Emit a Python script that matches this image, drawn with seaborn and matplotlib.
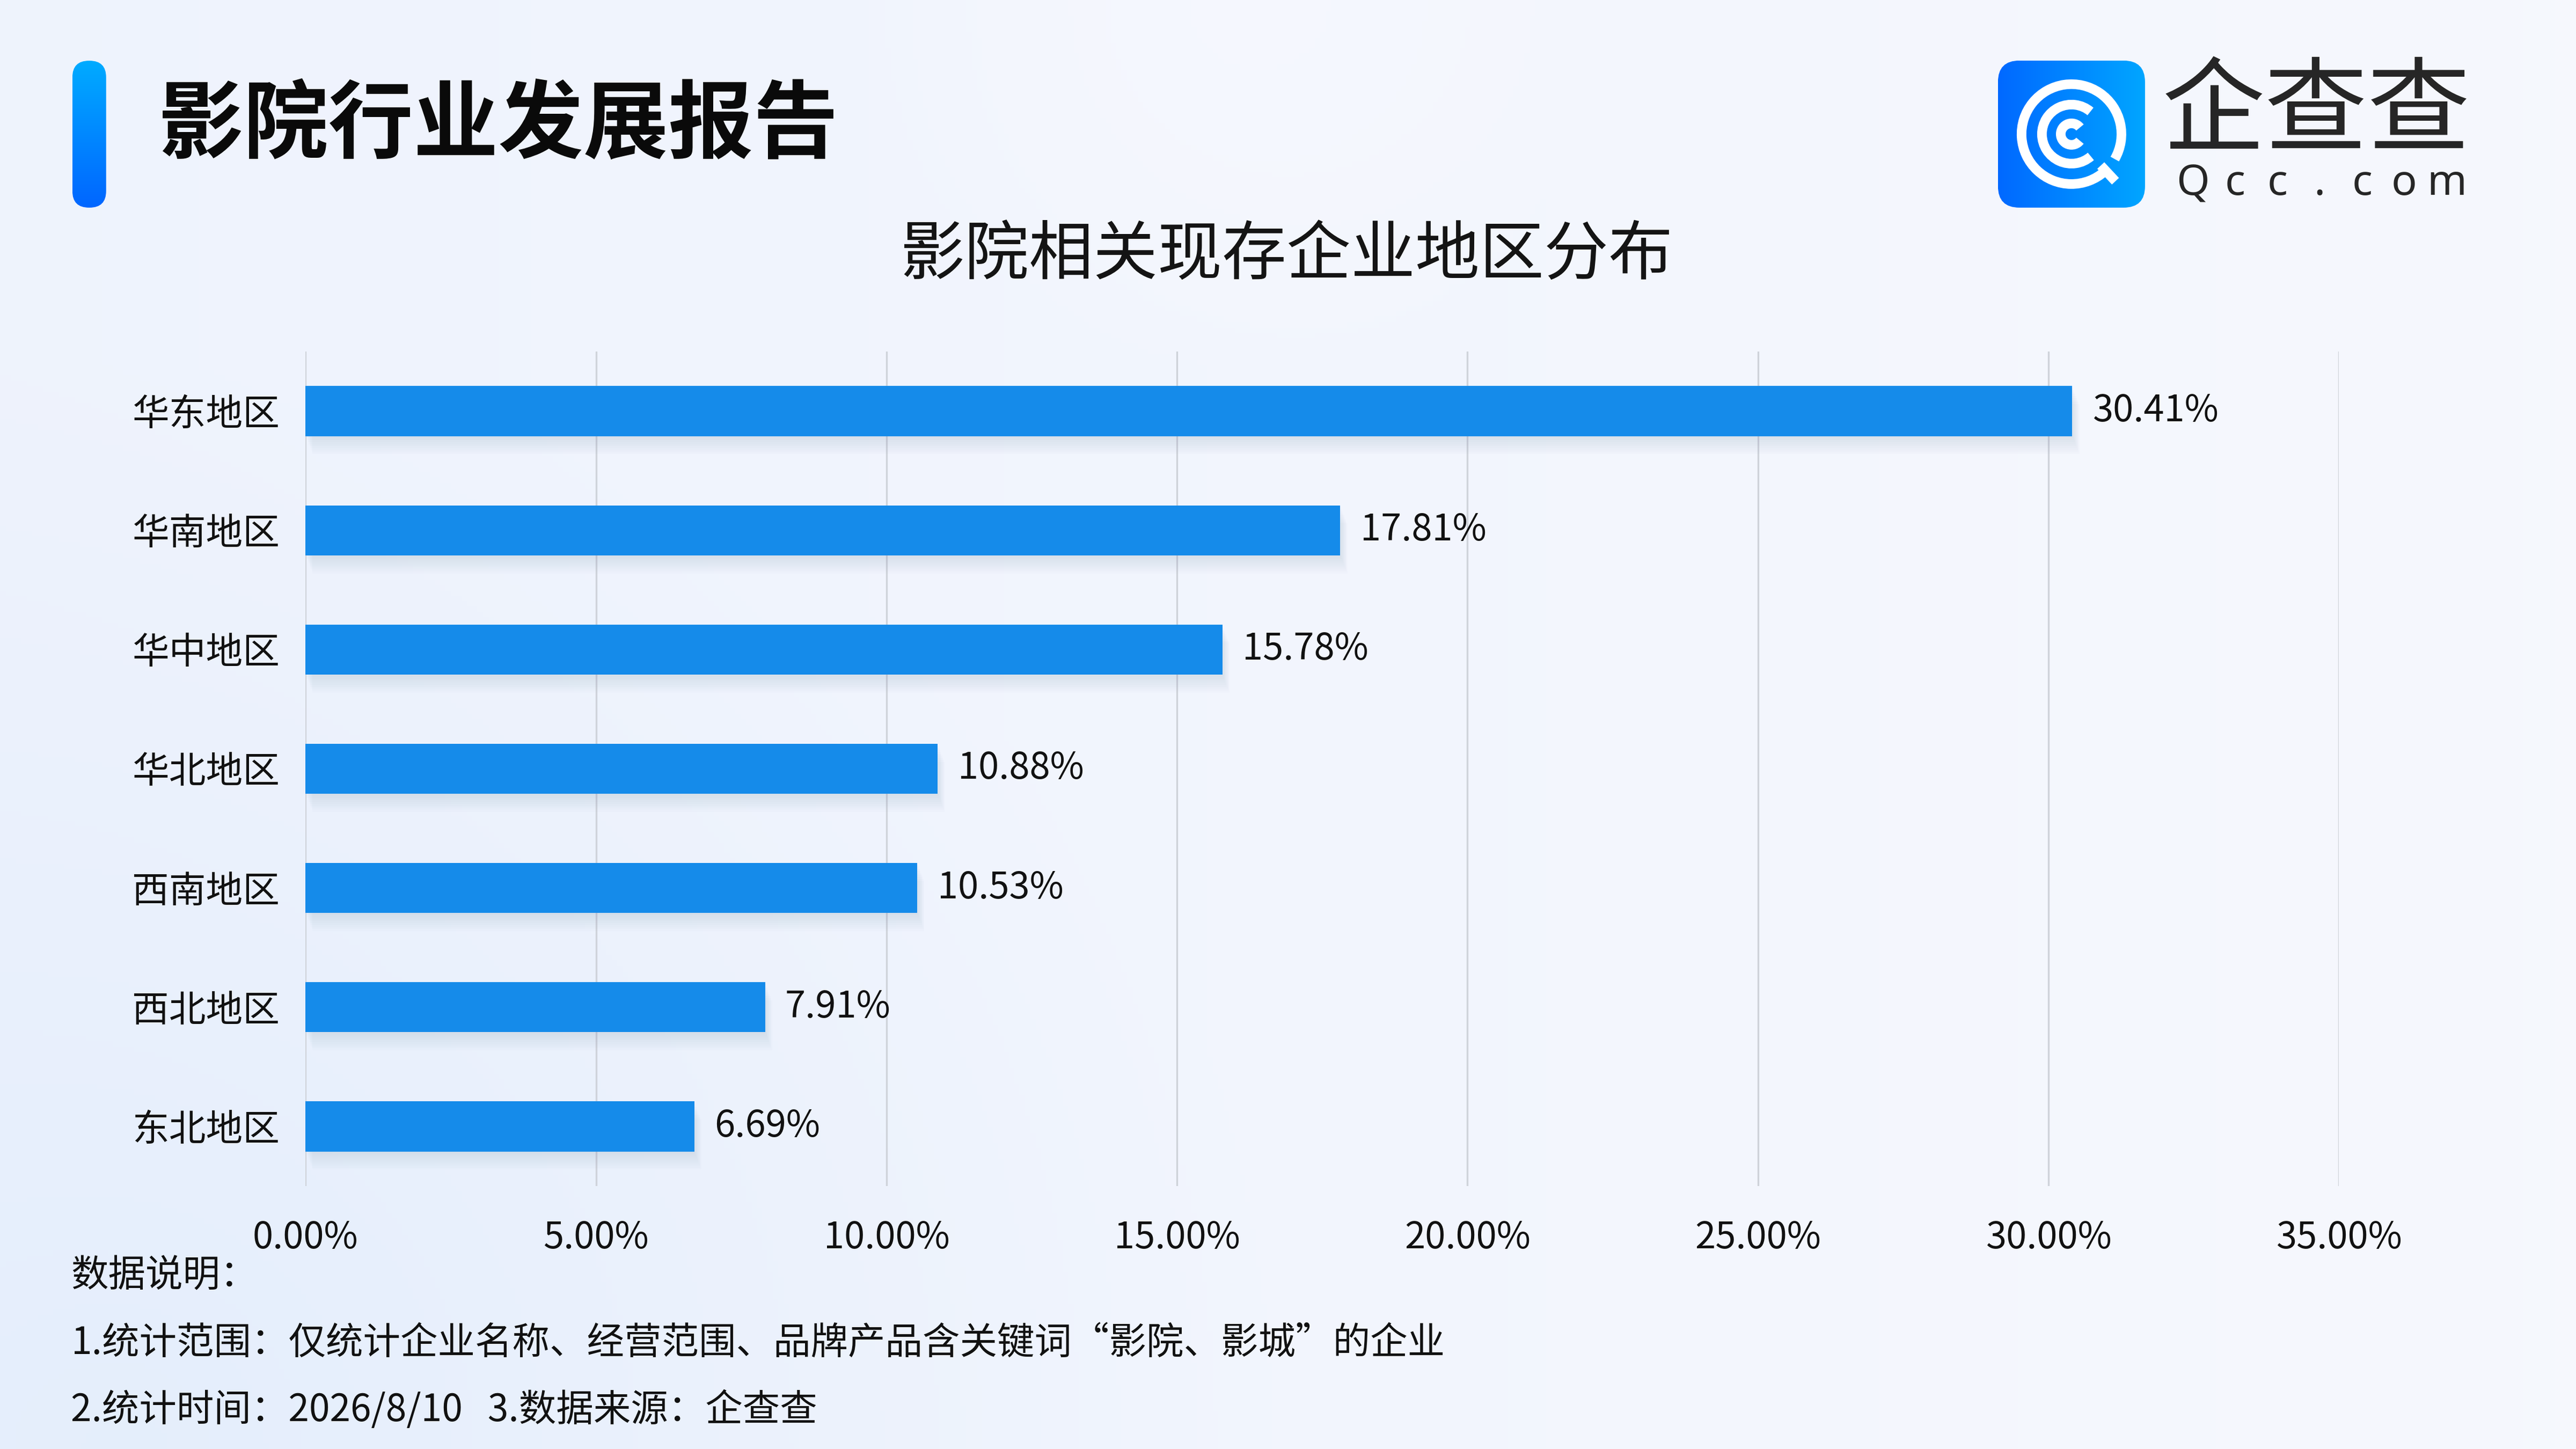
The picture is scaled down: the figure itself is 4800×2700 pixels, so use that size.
import numpy as np
import pandas as pd
import seaborn as sns
import matplotlib.pyplot as plt
from matplotlib.patches import FancyBboxPatch, Arc
from matplotlib import patheffects as pe

# --- data ---
regions = ['华东地区', '华南地区', '华中地区', '华北地区', '西南地区', '西北地区', '东北地区']
shares = [30.41, 17.81, 15.78, 10.88, 10.53, 7.91, 6.69]
x_ticks = [0, 5, 10, 15, 20, 25, 30, 35]

title = '影院行业发展报告'
subtitle = '影院相关现存企业地区分布'
notes = ['数据说明：',
         '1.统计范围：仅统计企业名称、经营范围、品牌产品含关键词“影院、影城”的企业',
         '2.统计时间：2026/8/10   3.数据来源：企查查']

BAR_COLOR = '#158BEA'
FONT = ['Noto Sans CJK SC', 'DejaVu Sans']

sns.set_style('white')
plt.rcParams['font.family'] = FONT
plt.rcParams['axes.unicode_minus'] = False

fig = plt.figure(figsize=(16, 9), dpi=300)

# background gradient
bg = fig.add_axes([0, 0, 1, 1], zorder=-10)
h, w = 270, 480
yy, xx = np.mgrid[0:h, 0:w]
xn, yn = xx / w, yy / h
top = np.array([0.935, 0.953, 0.992])
right = np.array([0.965, 0.973, 0.996])
img = top[None, None, :] * (1 - xn[..., None]) + right[None, None, :] * xn[..., None]
# bluish glow bottom-left
d = np.sqrt((xn - 0.05) ** 2 + ((yn - 1.0) * 0.6) ** 2)
glow = np.clip(1 - d / 0.45, 0, 1)[..., None]
img = img * (1 - 0.6 * glow) + np.array([0.87, 0.92, 0.985]) * 0.6 * glow
# light circle top centre
d2 = np.sqrt(((xn - 0.48) * 1.0) ** 2 + ((yn - 0.0) * 0.56) ** 2)
c2 = np.clip(1 - d2 / 0.14, 0, 1)[..., None] ** 0.6
img = img * (1 - 0.5 * c2) + np.array([0.975, 0.98, 1.0]) * 0.5 * c2
bg.imshow(img, extent=[0, 1, 0, 1], aspect='auto', origin='upper')
bg.set_axis_off()

# title bar with vertical gradient
bar_ax = fig.add_axes([0.0281, 0.8567, 0.0131, 0.1014])
bar_ax.set_xlim(0, 63)
bar_ax.set_ylim(0, 274)
bar_ax.set_axis_off()
grad = np.linspace(0, 1, 100)[:, None]
cols = np.array([0.0, 0.67, 1.0])[None, None, :] * (1 - grad[..., None]) + np.array([0.0, 0.40, 1.0])[None, None, :] * grad[..., None]
im = bar_ax.imshow(cols, extent=[0, 63, 0, 274], aspect='auto', origin='upper')
clip = FancyBboxPatch((0, 0), 63, 274, boxstyle='round,pad=0,rounding_size=31', transform=bar_ax.transData,
                      facecolor='none', edgecolor='none')
bar_ax.add_patch(clip)
im.set_clip_path(clip)

fig.text(0.0615, 0.913, title, fontsize=38, fontweight='heavy', color='#0a0a0a', va='center', ha='left')

# logo
lg = fig.add_axes([0.7756, 0.8567, 0.0571, 0.1015])
lg.set_xlim(0, 274)
lg.set_ylim(0, 274)
lg.set_axis_off()
gx = np.linspace(0, 1, 100)[None, :]
lcols = np.array([0.0, 0.41, 1.0])[None, None, :] * (1 - gx[..., None]) + np.array([0.0, 0.65, 1.0])[None, None, :] * gx[..., None]
lim = lg.imshow(lcols, extent=[0, 274, 0, 274], aspect='auto')
lclip = FancyBboxPatch((0, 0), 274, 274, boxstyle='round,pad=0,rounding_size=40', transform=lg.transData,
                       facecolor='none', edgecolor='none')
lg.add_patch(lclip)
lim.set_clip_path(lclip)
lw = 4.3
cx, cy = 137, 137
lg.add_patch(Arc((cx, cy), 186, 186, theta1=-30, theta2=312, lw=lw, color='white', capstyle='butt'))
lg.add_patch(Arc((cx, cy), 110, 110, theta1=50, theta2=311, lw=lw, color='white', capstyle='butt'))
lg.add_patch(Arc((cx, cy), 40, 40, theta1=38, theta2=322, lw=lw, color='white', capstyle='butt'))
ang = np.deg2rad(-47)
lg.plot([cx + 80 * np.cos(ang), cx + 120 * np.cos(ang)], [cy + 80 * np.sin(ang), cy + 120 * np.sin(ang)],
        color='white', lw=lw, solid_capstyle='butt')

fig.text(0.8992, 0.9215, '企查查', fontsize=46, fontweight='medium', color='#262626', ha='center', va='center')
for i, ch in enumerate('Qcc.com'):
    fig.text((4086 + i * 78.8) / 4800, 0.873, ch, fontsize=19, fontweight='bold', color='#262626',
             ha='center', va='center', family=['Noto Sans', 'DejaVu Sans'])

fig.text(0.4994, 0.823, subtitle, fontsize=28.8, color='#141414', ha='center', va='center')

# chart
ax = fig.add_axes([0.1186, 0.1815, 0.908 - 0.1186, 0.7574 - 0.1815])
df = pd.DataFrame({'region': regions, 'share': shares})
sns.barplot(data=df, x='share', y='region', color=BAR_COLOR, saturation=1, width=0.42, ax=ax, zorder=3,
            linewidth=0, edgecolor='none')
shadow = [pe.SimplePatchShadow(offset=(0.35 * k, -0.9 * k), shadow_rgbFace='#8a9bc0', alpha=0.022) for k in range(1, 10)]
for p in ax.patches:
    p.set_linewidth(0)
    p.set_path_effects(shadow + [pe.Normal()])
ax.set_xlim(0, 35)
ax.set_ylim(6.5, -0.5)
ax.set_xticks(x_ticks)
ax.set_xticklabels([f'{t:.2f}%' for t in x_ticks])
ax.set_xlabel('')
ax.set_ylabel('')
ax.set_facecolor('none')
ax.grid(axis='x', color='#cfd3da', lw=0.8)
ax.grid(axis='y', visible=False)
ax.set_axisbelow(True)
for s in ax.spines.values():
    s.set_visible(False)
ax.tick_params(axis='y', length=0, pad=11.5, labelsize=16.5, labelcolor='#111111')
ax.tick_params(axis='x', length=0, pad=15, labelsize=16.5, labelcolor='#111111')
ax.bar_label(ax.containers[0], labels=[f'{v:.2f}%' for v in shares], padding=9, fontsize=16.5, color='#111111')

# footer notes
fig.text(0.0276, 0.1196, notes[0], fontsize=16.7, color='#111111', va='center')
fig.text(0.0276, 0.0725, notes[1], fontsize=16.7, color='#111111', va='center')
fig.text(0.0276, 0.0267, notes[2], fontsize=16.7, color='#111111', va='center')

fig.savefig('out.png', dpi=300)
